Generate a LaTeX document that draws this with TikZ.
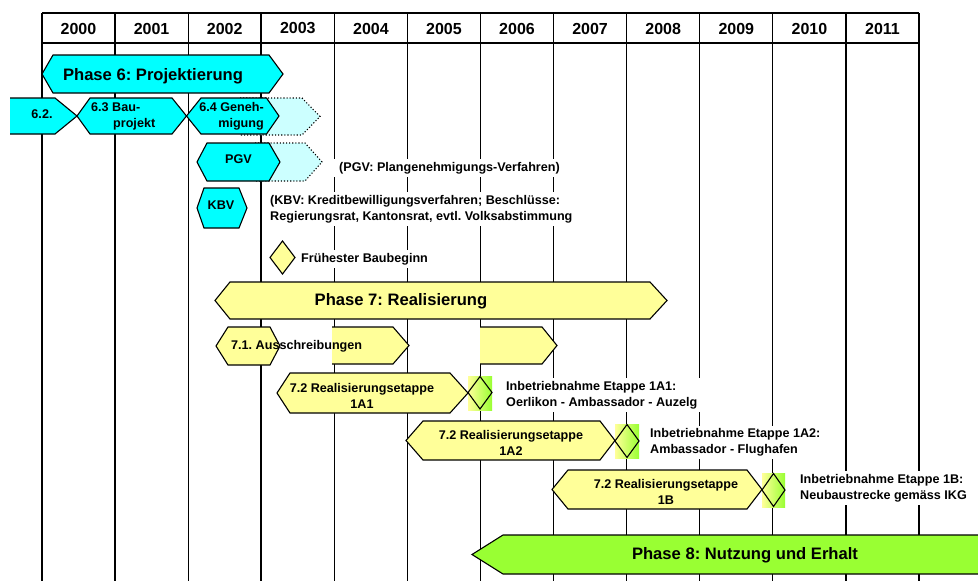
\documentclass[tikz,border=0pt]{standalone}
\usepackage{fontspec}
\setmainfont{Liberation Sans}
\frenchspacing
\definecolor{cy}{HTML}{00FFFF}
\definecolor{lcy}{HTML}{CCFFFF}
\definecolor{yl}{HTML}{FFFF99}
\definecolor{gr}{HTML}{99FF33}
\begin{document}
\frenchspacing
\begin{tikzpicture}[x=1pt,y=-1pt,
  gridline/.style={line width=1.3pt,black},
  thickline/.style={line width=2.3pt,black},
  shp/.style={draw=black,line width=1.1pt,line join=miter},
  cyshape/.style={shp,fill=cy},
  ylshape/.style={shp,fill=yl},
  extline/.style={draw=black,line width=1.1pt,dotted},
  yr/.style={font=\fontsize{16}{19}\selectfont\bfseries,inner sep=0pt},
  big/.style={font=\fontsize{16.6}{20}\selectfont\bfseries,inner sep=0pt},
  sm/.style={font=\fontsize{12.6}{16}\selectfont\bfseries,inner sep=0pt},
  lbl/.style={sm,fill=white,inner xsep=5pt,inner ysep=3pt,align=left,anchor=west}]
\useasboundingbox (0,0) rectangle (978,581);
\clip (0,0) rectangle (978,581);
\fill[white] (0,0) rectangle (978,581);
% grid
\foreach \i in {0,...,12}
  \draw[gridline] ({42+73.08*\i},13) -- ({42+73.08*\i},581);
\draw[thickline] (261.2,13) -- (261.2,581);
\draw[gridline] (42,13) -- (919,13);
\draw[gridline] (42,43) -- (919,43);
\node[yr] (y2000) at (78.5,28.5) {2000};
\node[yr] (y2001) at (151.6,28.5) {2001};
\node[yr] (y2002) at (224.7,28.5) {2002};
\node[yr] (y2003) at (297.8,28.5) {2003};
\node[yr] (y2004) at (370.9,28.5) {2004};
\node[yr] (y2005) at (443.9,28.5) {2005};
\node[yr] (y2006) at (517.0,28.5) {2006};
\node[yr] (y2007) at (590.1,28.5) {2007};
\node[yr] (y2008) at (663.2,28.5) {2008};
\node[yr] (y2009) at (736.3,28.5) {2009};
\node[yr] (y2010) at (809.4,28.5) {2010};
\node[yr] (y2011) at (882.5,28.5) {2011};
% Phase 6
\path[cyshape] (42,74) -- (53,55) -- (269,55) -- (283,74) -- (269,93) -- (53,93) -- cycle;
\node[big] (p6) at (153,76) {Phase 6: Projektierung};
% 6.2
\fill[cy] (10,98) -- (55,98) -- (77,116) -- (55,134) -- (10,134) -- cycle;
\draw[shp] (10,98) -- (55,98) -- (77,116) -- (55,134) -- (10,134);
\node[sm] (t62) at (42,114) {6.2.};
% 6.4 extension
\fill[lcy] (240,98) -- (302,98) -- (320,116.5) -- (302,135) -- (240,135) -- cycle;
\draw[extline] (240,98) -- (302,98) -- (320,116.5) -- (302,135) -- (240,135);
% 6.3
\path[cyshape] (77,116) -- (90,98) -- (172,98) -- (186.5,116) -- (172,134) -- (90,134) -- cycle;
\node[sm,align=left,anchor=west] (t63) at (91,116.5) {6.3 Bau-\\\hspace*{22pt}projekt};
% 6.4
\path[cyshape] (186.5,116) -- (201,98) -- (266.5,98) -- (279,116) -- (266.5,134) -- (201,134) -- cycle;
\node[sm,align=right,anchor=east] (t64) at (264,116.5) {6.4 Geneh-\\migung};
% PGV
\fill[lcy] (255,143) -- (305,143) -- (322,162) -- (305,181) -- (255,181) -- cycle;
\draw[extline] (255,143) -- (305,143) -- (322,162) -- (305,181) -- (255,181);
\path[cyshape] (197,162) -- (207,143) -- (269,143) -- (280,162) -- (269,181) -- (207,181) -- cycle;
\node[sm] (tpgv) at (238.5,159) {PGV};
\node[lbl,inner xsep=7pt] (lpgv) at (332,168) {(PGV: Plangenehmigungs-Verfahren)};
% KBV
\path[cyshape] (197,208) -- (204,188) -- (239,188) -- (247,208) -- (239,228) -- (204,228) -- cycle;
\node[sm] (tkbv) at (221,205) {KBV};
\node[lbl,inner xsep=4pt] (lkbv) at (266,209) {(KBV: Kreditbewilligungsverfahren; Beschlüsse:\\Regierungsrat, Kantonsrat, evtl. Volksabstimmung};
% Baubeginn
\path[ylshape] (282.5,241) -- (295,257.5) -- (282.5,274) -- (270,257.5) -- cycle;
\node[lbl,inner xsep=3pt] (lbau) at (298,259) {Frühester Baubeginn};
% Phase 7
\path[ylshape] (215,300.5) -- (230,282) -- (650,282) -- (667,300.5) -- (650,319) -- (230,319) -- cycle;
\node[big] (p7) at (401,301) {Phase 7: Realisierung};
% 7.1
\fill[yl] (332,327) -- (393,327) -- (409,345.5) -- (393,364) -- (332,364) -- cycle;
\draw[shp] (332,327) -- (393,327) -- (409,345.5) -- (393,364) -- (332,364);
\fill[yl] (480,327) -- (542,327) -- (557,345.5) -- (542,364) -- (480,364) -- cycle;
\draw[shp] (480,327) -- (542,327) -- (557,345.5) -- (542,364) -- (480,364);
\path[ylshape] (216,346) -- (228,327) -- (270,327) -- (280,346) -- (270,365) -- (228,365) -- cycle;
\node[sm,anchor=west] (t71) at (231,346.5) {7.1. Ausschreibungen};
% 7.2 1A1
\path[ylshape] (277,393) -- (290,373) -- (450,373) -- (468,393) -- (450,413) -- (290,413) -- cycle;
\node[sm,align=center] (t1a1) at (362,395.5) {7.2 Realisierungsetappe\\1A1};
\shade[left color=yl,right color=gr] (468,376) rectangle (492,410);
\draw[shp] (480,376.5) -- (492,392.5) -- (480,409) -- (468,392.5) -- cycle;
\node[lbl] (l1a1) at (501,395) {Inbetriebnahme Etappe 1A1:\\Oerlikon - Ambassador - Auzelg};
% 7.2 1A2
\path[ylshape] (406,440.5) -- (423,421) -- (600,421) -- (615,440.5) -- (600,460) -- (423,460) -- cycle;
\node[sm,align=center] (t1a2) at (511,443) {7.2 Realisierungsetappe\\1A2};
\shade[left color=yl,right color=gr] (615,424) rectangle (639,458);
\draw[shp] (627,424.5) -- (639,441) -- (627,457.5) -- (615,441) -- cycle;
\node[lbl] (l1a2) at (645,442.5) {Inbetriebnahme Etappe 1A2:\\Ambassador - Flughafen};
% 7.2 1B
\path[ylshape] (552,489.5) -- (568,470) -- (747,470) -- (762,489.5) -- (747,509) -- (568,509) -- cycle;
\node[sm,align=center] (t1b) at (666,492) {7.2 Realisierungsetappe\\1B};
\shade[left color=yl,right color=gr] (762,473) rectangle (785,507);
\draw[shp] (773.5,473.5) -- (785,490) -- (773.5,506.5) -- (762,490) -- cycle;
\node[lbl] (l1b) at (795,488) {Inbetriebnahme Etappe 1B:\\Neubaustrecke gemäss IKG};
% Phase 8
\path[shp,fill=gr] (472,554.5) -- (503,535) -- (990,535) -- (990,574) -- (503,574) -- cycle;
\node[big] (p8) at (745,555.5) {Phase 8: Nutzung und Erhalt};
\end{tikzpicture}
\end{document}
